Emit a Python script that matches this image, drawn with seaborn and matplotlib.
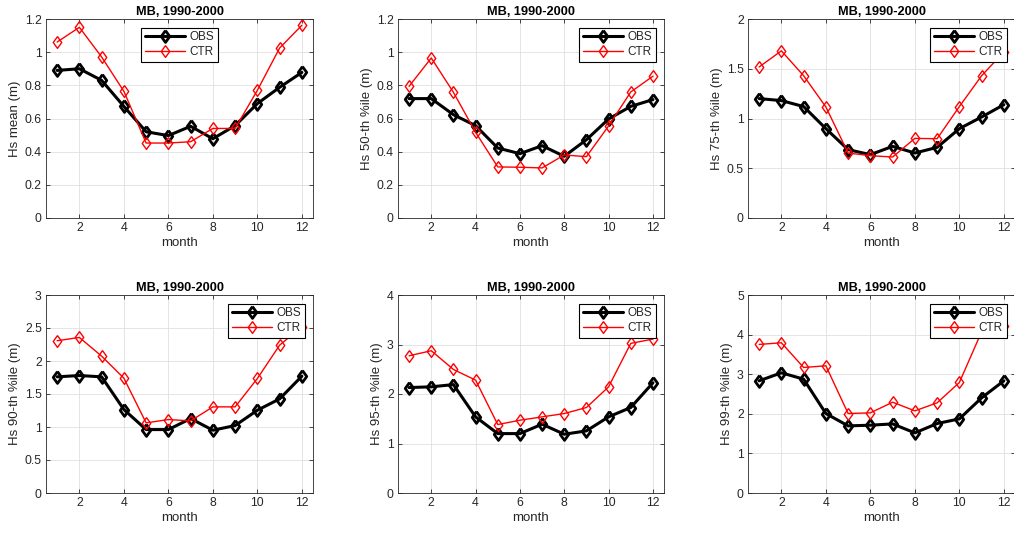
import numpy as np
import pandas as pd
import matplotlib
matplotlib.use("Agg")
import matplotlib.pyplot as plt
import seaborn as sns
from matplotlib.ticker import FuncFormatter

months = list(range(1, 13))
title = "MB, 1990-2000"
series_names = ["OBS", "CTR"]

ylabels = ["Hs mean (m)", "Hs 50-th %ile (m)", "Hs 75-th %ile (m)",
           "Hs 90-th %ile (m)", "Hs 95-th %ile (m)", "Hs 99-th %ile (m)"]

obs_mean = [0.89, 0.90, 0.83, 0.673, 0.52, 0.497, 0.553, 0.478, 0.557, 0.69, 0.788, 0.878]
ctr_mean = [1.061, 1.15, 0.971, 0.764, 0.452, 0.452, 0.46, 0.54, 0.54, 0.77, 1.025, 1.162]

obs_p50 = [0.72, 0.72, 0.623, 0.557, 0.422, 0.388, 0.436, 0.372, 0.472, 0.597, 0.673, 0.714]
ctr_p50 = [0.794, 0.965, 0.758, 0.517, 0.308, 0.306, 0.302, 0.38, 0.37, 0.555, 0.76, 0.855]

obs_p75 = [1.20, 1.18, 1.12, 0.898, 0.687, 0.637, 0.72, 0.653, 0.71, 0.898, 1.015, 1.139]
ctr_p75 = [1.518, 1.68, 1.43, 1.116, 0.653, 0.626, 0.613, 0.80, 0.797, 1.12, 1.43, 1.668]

obs_p90 = [1.76, 1.78, 1.76, 1.265, 0.961, 0.961, 1.128, 0.951, 1.022, 1.254, 1.426, 1.77]
ctr_p90 = [2.307, 2.357, 2.074, 1.74, 1.062, 1.113, 1.093, 1.305, 1.305, 1.735, 2.24, 2.519]

obs_p95 = [2.13, 2.145, 2.19, 1.538, 1.20, 1.20, 1.39, 1.187, 1.255, 1.538, 1.727, 2.226]
ctr_p95 = [2.772, 2.874, 2.496, 2.28, 1.383, 1.47, 1.538, 1.605, 1.727, 2.145, 3.022, 3.11]

obs_p99 = [2.833, 3.035, 2.875, 2.007, 1.695, 1.712, 1.745, 1.518, 1.754, 1.872, 2.403, 2.833]
ctr_p99 = [3.752, 3.794, 3.17, 3.212, 2.007, 2.024, 2.293, 2.074, 2.277, 2.791, 4.073, 4.216]

obs_all = [obs_mean, obs_p50, obs_p75, obs_p90, obs_p95, obs_p99]
ctr_all = [ctr_mean, ctr_p50, ctr_p75, ctr_p90, ctr_p95, ctr_p99]

yticks_all = [
    [0, 0.2, 0.4, 0.6, 0.8, 1, 1.2],
    [0, 0.2, 0.4, 0.6, 0.8, 1, 1.2],
    [0, 0.5, 1, 1.5, 2],
    [0, 0.5, 1, 1.5, 2, 2.5, 3],
    [0, 1, 2, 3, 4],
    [0, 1, 2, 3, 4, 5],
]
xticks = [2, 4, 6, 8, 10, 12]

sns.set_theme(style="white")
plt.rcParams["font.family"] = ["Liberation Sans", "DejaVu Sans"]

W, H = 1014, 533
fig = plt.figure(figsize=(W / 100, H / 100), dpi=100)

# axes boxes in pixels: (left, right, top, bottom)
lefts = [46, 398, 748]
rights = [313, 664, 1015]
rows = [(19, 218), (295, 493)]

diamond = [(0, 1), (0.72, 0), (0, -1), (-0.72, 0), (0, 1)]
gray = "#262626"

for i in range(6):
    r, c = divmod(i, 3)
    l, rr = lefts[c], rights[c]
    t, b = rows[r]
    ax = fig.add_axes([l / W, 1 - b / H, (rr - l) / W, (b - t) / H])
    df = pd.DataFrame({"month": months * 2,
                       "val": obs_all[i] + ctr_all[i],
                       "series": ["OBS"] * 12 + ["CTR"] * 12})
    sns.lineplot(data=df[df.series == "OBS"], x="month", y="val", ax=ax,
                 color="black", lw=2.2, marker=diamond, ms=8.5,
                 mfc="none", mec="black", mew=2.0, label="OBS")
    sns.lineplot(data=df[df.series == "CTR"], x="month", y="val", ax=ax,
                 color="red", lw=1.0, marker=diamond, ms=8.5,
                 mfc="none", mec="red", mew=1.0, label="CTR")
    yt = yticks_all[i]
    ax.set_xlim(0.5, 12.5)
    ax.set_ylim(yt[0], yt[-1])
    ax.set_xticks(xticks)
    ax.set_yticks(yt)
    ax.yaxis.set_major_formatter(FuncFormatter(lambda v, p: f"{v:g}"))
    ax.grid(True, color="#e0e0e0", lw=0.6)
    ax.set_axisbelow(True)
    for s in ax.spines.values():
        s.set_color(gray)
        s.set_linewidth(0.6)
        s.set_visible(True)
    ax.tick_params(axis="both", direction="in", length=3, width=0.6,
                   colors=gray, labelsize=8.8, top=True, right=True,
                   bottom=True, left=True, pad=3)
    ax.set_xlabel("month", fontsize=9.5, color=gray, labelpad=2)
    ax.set_ylabel(ylabels[i], fontsize=9.5, color=gray, labelpad=3)
    ax.set_title(title, fontsize=9.2, fontweight="bold", color="black", pad=3)
    if i == 0:
        leg = ax.legend(loc="upper center", bbox_to_anchor=(0.5, 0.955),
                        fontsize=8.5, handlelength=3.4, frameon=True,
                        fancybox=False, borderpad=0.3, labelspacing=0.25,
                        handletextpad=0.4, borderaxespad=0)
    else:
        leg = ax.legend(loc="upper right", bbox_to_anchor=(0.97, 0.955),
                        fontsize=8.5, handlelength=3.4, frameon=True,
                        fancybox=False, borderpad=0.3, labelspacing=0.25,
                        handletextpad=0.4, borderaxespad=0)
    leg.get_frame().set_edgecolor("black")
    leg.get_frame().set_linewidth(0.8)
    leg.get_frame().set_alpha(1)
    for txt in leg.get_texts():
        txt.set_color(gray)

fig.savefig("out.png", dpi=100, facecolor="white")
